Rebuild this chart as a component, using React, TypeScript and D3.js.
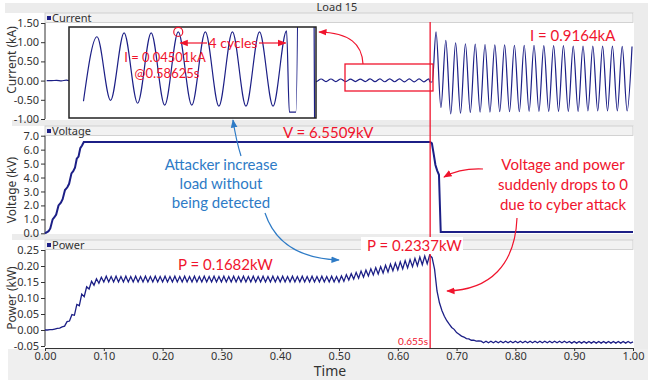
import * as React from 'react';
import * as d3 from 'd3';

// tick labels
const timeTicks = [0, 0.1, 0.2, 0.3, 0.4, 0.5, 0.6, 0.7, 0.8, 0.9, 1.0];
const currentTicks = [1.5, 1.0, 0.5, 0.0, -0.5, -1.0];
const voltageTicks = [7, 6, 5, 4, 3, 2, 1, 0];
const powerTicks = [0.25, 0.2, 0.15, 0.1, 0.05, 0.0, -0.05];

// current (kA), peaks/troughs sampled every half cycle of 60 Hz
const sampleStep = 1 / 120;
const currentPreStart = 0.0029;
const currentPre = [
  0, 0, 0.005, -0.005, 0.01, -0.01, 0.02, -0.015, 0.03, -0.02, 0.035, -0.025, 0.04, -0.027,
  0.042, -0.027, 0.042, -0.027, 0.042, -0.027, 0.042, -0.027, 0.042, -0.027, 0.042, -0.027,
  0.042, -0.027, 0.042, -0.027, 0.042, -0.027, 0.042, -0.027, 0.042, -0.027, 0.042, -0.027,
  0.042, -0.027, 0.042, -0.027, 0.042, -0.027, 0.042, -0.027, 0.042, -0.027, 0.042, -0.027,
  0.042, -0.027, 0.042, -0.027, 0.042, -0.027, 0.042, -0.027, 0.042, -0.027, 0.042, -0.027,
  0.040, -0.026, 0.040, -0.025, 0.044, -0.028, 0.044, -0.030, 0.045, -0.030, 0.045, -0.031,
  0.045, -0.031, 0.045, -0.031, 0.046,
];
const currentJump: [number, number][] = [[0.6546, -0.037], [0.6586, -0.037]];
const currentPostStart = 0.665;
const currentPost = [
  1.27, -0.70, 1.05, -0.87, 0.98, -0.85, 0.96, -0.83, 0.95, -0.82, 0.94, -0.82, 0.93, -0.81,
  0.93, -0.81, 0.92, -0.81, 0.92, -0.80, 0.92, -0.80, 0.91, -0.80, 0.91, -0.80, 0.91, -0.80,
  0.90, -0.80, 0.90, -0.79, 0.90, -0.79, 0.90, -0.79, 0.90, -0.79, 0.89, -0.79, 0.89,
];

// voltage (kV)
const voltageT = [0, 0.006, 0.009, 0.013, 0.016, 0.019, 0.023, 0.027, 0.030, 0.034, 0.038, 0.041, 0.045,
  0.048, 0.051, 0.054, 0.057, 0.060, 0.063, 0.066, 0.655, 0.658, 0.661, 0.664, 0.667, 0.670, 0.673, 1.0];
const voltageV = [0, 0.15, 0.35, 1.0, 1.15, 1.35, 2.0, 2.2, 2.45, 3.1, 3.3, 3.55, 4.3,
  4.45, 4.7, 5.35, 5.5, 6.1, 6.3, 6.55, 6.55, 6.45, 5.7, 4.9, 4.5, 4.2, 0.1, 0.1];

// power (kW), sampled every half cycle of the 120 Hz ripple
const powerStep = 1 / 240;
const powerRise = [0, 0, 0.001, 0.001, 0.003, 0.005, 0.006, 0.010, 0.012, 0.026, 0.028, 0.048, 0.046,
  0.080, 0.076, 0.112, 0.104, 0.135, 0.128, 0.152, 0.140, 0.160, 0.146, 0.165, 0.150];
const powerSteady = [
  0.168, 0.150, 0.167, 0.150, 0.168, 0.150, 0.167, 0.150, 0.168, 0.150, 0.167, 0.150,
  0.168, 0.150, 0.167, 0.150, 0.168, 0.150, 0.167, 0.150, 0.168, 0.150, 0.167, 0.150,
  0.168, 0.150, 0.167, 0.150, 0.168, 0.150, 0.167, 0.150, 0.168, 0.150, 0.167, 0.150,
  0.168, 0.150, 0.167, 0.150, 0.168, 0.150, 0.167, 0.150, 0.168, 0.150, 0.167, 0.150,
  0.168, 0.150, 0.167, 0.150, 0.168, 0.150, 0.167, 0.150, 0.168, 0.150, 0.167, 0.150,
  0.168, 0.150, 0.167, 0.150, 0.168, 0.150, 0.167, 0.150, 0.168, 0.150, 0.167, 0.150,
  0.168, 0.150, 0.167, 0.150, 0.168, 0.150, 0.167, 0.150, 0.168, 0.150, 0.167, 0.150,
  0.168, 0.150, 0.167, 0.150, 0.168, 0.150, 0.167, 0.150, 0.168, 0.150, 0.167, 0.150,
];
const powerAttack = [0.169, 0.152, 0.173, 0.156, 0.176, 0.159, 0.180, 0.162, 0.184, 0.165, 0.187, 0.169,
  0.191, 0.172, 0.195, 0.175, 0.198, 0.178, 0.202, 0.181, 0.206, 0.185, 0.209, 0.188, 0.213, 0.191,
  0.217, 0.194, 0.220, 0.198, 0.224, 0.201, 0.228, 0.204, 0.231, 0.207, 0.234];
const powerDrop = [0.226, 0.190, 0.122, 0.085, 0.061, 0.043, 0.029, 0.018, 0.008, 0.002, -0.008, -0.013,
  -0.019, -0.022, -0.027, -0.028, -0.032, -0.032, -0.035, -0.034];
const powerAfter = [
  -0.035, -0.040, -0.035, -0.040, -0.035, -0.040, -0.035, -0.040, -0.035, -0.040, -0.035, -0.040,
  -0.035, -0.040, -0.035, -0.040, -0.035, -0.040, -0.035, -0.040, -0.035, -0.040, -0.035, -0.040,
  -0.035, -0.040, -0.035, -0.040, -0.035, -0.040, -0.035, -0.040, -0.035, -0.040, -0.035, -0.040,
  -0.036, -0.041, -0.036, -0.041, -0.036, -0.041, -0.036, -0.041, -0.036, -0.041, -0.036, -0.041,
  -0.036, -0.041, -0.036, -0.041, -0.036, -0.041, -0.036, -0.041, -0.036, -0.041, -0.036, -0.041,
  -0.036, -0.041, -0.037,
];

const attackTime = 0.655;
const navy = '#1c1f86';
const red = '#f0142d';
const blue = '#2e7bc6';
const axisFont = '"Noto Sans", sans-serif';
const noteFont = 'Lato, sans-serif';

export default function App() {
  const ref = React.useRef<SVGSVGElement>(null);

  React.useEffect(() => {
    const svg = d3.select(ref.current);
    svg.selectAll('*').remove();

    const x = d3.scaleLinear().domain([0, 1]).range([45, 633]);
    const panels = [
      {name: 'Current', title: 'Current (kA)', y: d3.scaleLinear().domain([-1, 1.5]).range([119, 23]), ticks: currentTicks, dec: 2, head: 13, titleY: 60},
      {name: 'Voltage', title: 'Voltage (kV)', y: d3.scaleLinear().domain([0, 7]).range([233.3, 135.7]), ticks: voltageTicks, dec: 1, head: 126, titleY: 190},
      {name: 'Power', title: 'Power (kW)', y: d3.scaleLinear().domain([-0.05, 0.25]).range([346, 250]), ticks: powerTicks, dec: 2, head: 240, titleY: 298},
    ];

    // background frame
    svg.append('rect').attr('width', 648).attr('height', 381).attr('fill', '#fff');
    svg.append('rect').attr('x', 5).attr('y', 3).attr('width', 643).attr('height', 10).attr('fill', '#ececec');
    svg.append('rect').attr('x', 12).attr('y', 120).attr('width', 636).attr('height', 6).attr('fill', '#ececec');
    svg.append('rect').attr('x', 12).attr('y', 234).attr('width', 636).attr('height', 6).attr('fill', '#ececec');
    svg.append('rect').attr('x', 634).attr('y', 13).attr('width', 14).attr('height', 336).attr('fill', '#ececec');
    svg.append('rect').attr('x', 8).attr('y', 349).attr('width', 640).attr('height', 31).attr('fill', '#efefef');
    svg.append('text').attr('x', 337).attr('y', 11).attr('text-anchor', 'middle')
      .attr('font-family', axisFont).attr('font-size', 11).attr('fill', '#333').text('Load 15');

    const defs = svg.append('defs');
    const marker = (id: string, color: string) => {
      defs.append('marker').attr('id', id).attr('viewBox', '0 0 10 10').attr('refX', 9).attr('refY', 5)
        .attr('markerWidth', 7).attr('markerHeight', 7).attr('orient', 'auto-start-reverse')
        .append('path').attr('d', 'M0,1 L10,5 L0,9 z').attr('fill', color);
    };
    marker('arrRed', red);
    marker('arrBlue', blue);
    defs.append('clipPath').attr('id', 'insetClip').append('rect')
      .attr('x', 69).attr('y', 27).attr('width', 247).attr('height', 91);

    panels.forEach(p => {
      const [y0, y1] = p.y.range();
      svg.append('rect').attr('x', 45).attr('y', p.head).attr('width', 588).attr('height', 9.5)
        .attr('fill', '#f2f2f2').attr('stroke', '#c9c9c9').attr('stroke-width', 0.8);
      svg.append('rect').attr('x', 47).attr('y', p.head + 3).attr('width', 4).attr('height', 4).attr('fill', navy);
      svg.append('text').attr('x', 52).attr('y', p.head + 8.5).attr('font-family', axisFont)
        .attr('font-size', 11).attr('fill', '#333').text(p.name);

      const ax = svg.append('g').attr('transform', 'translate(45,0)')
        .call(d3.axisLeft(p.y).tickValues(p.ticks).tickSize(4).tickPadding(2)
          .tickFormat(d => (+d).toFixed(p.dec)));
      ax.select('.domain').attr('d', `M0,${y1}V${y0}`).attr('stroke', '#333');
      ax.selectAll('line').attr('stroke', '#333');
      ax.selectAll('text').attr('font-family', axisFont).attr('font-size', 11).attr('fill', '#333');

      svg.append('text').attr('transform', `translate(16,${p.titleY}) rotate(-90)`).attr('text-anchor', 'middle')
        .attr('font-family', axisFont).attr('font-size', 12).attr('fill', '#333').text(p.title);
    });

    const xa = svg.append('g').attr('transform', 'translate(0,348)')
      .call(d3.axisBottom(x).tickValues(timeTicks).tickSize(3).tickPadding(1).tickFormat(d => (+d).toFixed(2)));
    xa.select('.domain').attr('stroke', '#333');
    xa.selectAll('line').attr('stroke', '#333');
    xa.selectAll('text').attr('font-family', axisFont).attr('font-size', 11).attr('fill', '#333');
    svg.append('text').attr('x', 330).attr('y', 376).attr('text-anchor', 'middle')
      .attr('font-family', axisFont).attr('font-size', 14).attr('fill', '#333').text('Time');

    // series
    const currentPoints: [number, number][] = [
      ...currentPre.map((v, i) => [currentPreStart + i * sampleStep, v] as [number, number]),
      ...currentJump,
      ...currentPost.map((v, i) => [currentPostStart + i * sampleStep, v] as [number, number]),
    ];
    const voltagePoints: [number, number][] = voltageT.map((t, i) => [t, voltageV[i]]);
    const powerPoints: [number, number][] = [...powerRise, ...powerSteady, ...powerAttack, ...powerDrop, ...powerAfter]
      .map((v, i) => [i * powerStep, v]);

    const [pc, pv, pp] = panels;
    svg.append('path').attr('d', d3.line().x(d => x(d[0])).y(d => pc.y(d[1])).curve(d3.curveMonotoneX)(currentPoints))
      .attr('fill', 'none').attr('stroke', navy).attr('stroke-width', 1.2);
    svg.append('path').attr('d', d3.line().x(d => x(d[0])).y(d => pv.y(d[1]))(voltagePoints))
      .attr('fill', 'none').attr('stroke', navy).attr('stroke-width', 2);
    svg.append('path').attr('d', d3.line().x(d => x(d[0])).y(d => pp.y(d[1]))(powerPoints))
      .attr('fill', 'none').attr('stroke', navy).attr('stroke-width', 1.3);

    // inset: magnified current before the attack
    const ix = d3.scaleLinear().domain([0.519, 0.671]).range([69, 316]);
    const iy = d3.scaleLinear().domain([-0.0431, 0.05]).range([118, 27]);
    svg.append('rect').attr('x', 69).attr('y', 27).attr('width', 247).attr('height', 91).attr('fill', '#fff');
    svg.append('g').attr('clip-path', 'url(#insetClip)').append('path')
      .attr('d', d3.line().x(d => ix(d[0])).y(d => iy(d[1])).curve(d3.curveMonotoneX)(currentPoints.filter(d => d[0] > 0.52)))
      .attr('fill', 'none').attr('stroke', navy).attr('stroke-width', 1.2);
    svg.append('rect').attr('x', 69).attr('y', 27).attr('width', 247).attr('height', 91)
      .attr('fill', 'none').attr('stroke', '#222').attr('stroke-width', 1.5);

    const cycT = currentPreStart + 70 * sampleStep;
    const endT = currentPreStart + 78 * sampleStep;
    svg.append('circle').attr('cx', ix(cycT)).attr('cy', iy(currentPre[70])).attr('r', 4.5)
      .attr('fill', 'none').attr('stroke', red).attr('stroke-width', 1.2);
    svg.append('line').attr('x1', 207).attr('x2', ix(cycT) + 2).attr('y1', 43).attr('y2', 43)
      .attr('stroke', red).attr('stroke-width', 1.2).attr('marker-end', 'url(#arrRed)');
    svg.append('line').attr('x1', 259).attr('x2', ix(endT) - 1).attr('y1', 43).attr('y2', 43)
      .attr('stroke', red).attr('stroke-width', 1.2).attr('marker-end', 'url(#arrRed)');

    const note = (tx: number, ty: number, s: string, color: string, size = 15, anchor = 'start') =>
      svg.append('text').attr('x', tx).attr('y', ty).attr('text-anchor', anchor).attr('font-family', noteFont)
        .attr('font-size', size).attr('fill', color).text(s);

    note(233, 48, '4 cycles', red, 14, 'middle');
    note(165, 62, 'I = 0.04501kA', red, 13, 'middle');
    note(167, 78, '@0.58625s', red, 13, 'middle');

    svg.append('rect').attr('x', 345).attr('y', 64).attr('width', 88).attr('height', 27)
      .attr('fill', 'none').attr('stroke', red).attr('stroke-width', 1.3);
    svg.append('path').attr('d', 'M363,64 C362,44 350,33 319,32').attr('fill', 'none')
      .attr('stroke', red).attr('stroke-width', 1.2).attr('marker-end', 'url(#arrRed)');

    svg.append('line').attr('x1', x(attackTime)).attr('x2', x(attackTime)).attr('y1', 22).attr('y2', 348)
      .attr('stroke', red).attr('stroke-width', 1.3);

    note(530, 41, 'I = 0.9164kA', red);
    note(283, 138, 'V = 6.5509kV', red);
    note(178, 270, 'P = 0.1682kW', red);
    svg.append('rect').attr('x', 361).attr('y', 237).attr('width', 102).attr('height', 17).attr('fill', '#fff');
    note(367, 251, 'P = 0.2337kW', red);
    note(428, 345, '0.655s', red, 10, 'end');

    note(221, 170, 'Attacker increase', blue, 15, 'middle');
    note(221, 189, 'load without', blue, 15, 'middle');
    note(221, 208, 'being detected', blue, 15, 'middle');
    svg.append('path').attr('d', 'M241,156 Q236,140 233,120').attr('fill', 'none')
      .attr('stroke', blue).attr('stroke-width', 1.2).attr('marker-end', 'url(#arrBlue)');
    svg.append('path').attr('d', 'M265,213 Q280,258 339,260').attr('fill', 'none')
      .attr('stroke', blue).attr('stroke-width', 1.2).attr('marker-end', 'url(#arrBlue)');

    note(563, 170, 'Voltage and power', red, 15, 'middle');
    note(563, 190, 'suddenly drops to 0', red, 15, 'middle');
    note(563, 210, 'due to cyber attack', red, 15, 'middle');
    svg.append('path').attr('d', 'M483,169 Q460,168 444,177').attr('fill', 'none')
      .attr('stroke', red).attr('stroke-width', 1.2).attr('marker-end', 'url(#arrRed)');
    svg.append('path').attr('d', 'M517,218 C515,265 490,290 447,291').attr('fill', 'none')
      .attr('stroke', red).attr('stroke-width', 1.2).attr('marker-end', 'url(#arrRed)');
  }, []);

  return <svg ref={ref} width={648} height={381} style={{position: 'absolute', left: 0, top: 0}} />;
}
